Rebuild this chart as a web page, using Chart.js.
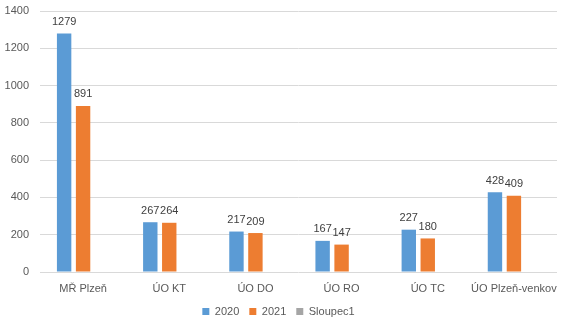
<!DOCTYPE html>
<html>
<head>
<meta charset="utf-8">
<script src="https://cdn.jsdelivr.net/npm/chart.js@4"></script>
<style>
html,body{margin:0;padding:0;background:#fff;}
#wrap{width:565px;height:327px;position:relative;}
</style>
</head>
<body>
<div id="wrap"><canvas id="c" width="565" height="327"></canvas></div>
<script>
const categories = ["MŘ Plzeň", "ÚO KT", "ÚO DO", "ÚO RO", "ÚO TC", "ÚO Plzeň-venkov"];
const values2020 = [1279, 267, 217, 167, 227, 428];
const values2021 = [891, 264, 209, 147, 180, 409];
const valuesSloupec1 = [null, null, null, null, null, null];
const seriesNames = ["2020", "2021", "Sloupec1"];
const yTicks = [0, 200, 400, 600, 800, 1000, 1200, 1400];

const FONT = "'Liberation Sans', 'DejaVu Sans', sans-serif";

const dataLabels = {
  id: 'dataLabels',
  afterDatasetsDraw(chart) {
    const ctx = chart.ctx;
    ctx.save();
    ctx.font = "11px " + FONT;
    ctx.fillStyle = '#404040';
    ctx.textAlign = 'center';
    ctx.textBaseline = 'bottom';
    chart.data.datasets.forEach((ds, i) => {
      const meta = chart.getDatasetMeta(i);
      meta.data.forEach((el, j) => {
        const v = ds.data[j];
        if (v === null || v === undefined) return;
        ctx.fillText(String(v), el.x, el.y - 6);
      });
    });
    ctx.restore();
  }
};

new Chart(document.getElementById('c'), {
  type: 'bar',
  data: {
    labels: categories,
    datasets: [
      { label: seriesNames[0], data: values2020, backgroundColor: '#5B9BD5' },
      { label: seriesNames[1], data: values2021, backgroundColor: '#ED7D31' },
      { label: seriesNames[2], data: valuesSloupec1, backgroundColor: '#A5A5A5' }
    ]
  },
  options: {
    responsive: false,
    animation: false,
    devicePixelRatio: 1,
    layout: { padding: { top: 11, right: 8, left: 0, bottom: 0 } },
    datasets: { bar: { categoryPercentage: 0.66, barPercentage: 0.76 } },
    plugins: {
      tooltip: { enabled: false },
      legend: {
        position: 'bottom',
        labels: {
          boxWidth: 7, boxHeight: 7, padding: 10,
          color: '#595959',
          font: { family: FONT, size: 11 }
        }
      }
    },
    scales: {
      x: {
        grid: { display: false, drawTicks: false },
        border: { display: false },
        ticks: { color: '#595959', font: { family: FONT, size: 11 }, padding: 10, maxRotation: 0, autoSkip: false },
        afterFit(scale) { scale.height = 24; scale.paddingLeft = 0; scale.paddingRight = 0; }
      },
      y: {
        min: 0, max: 1400,
        afterBuildTicks(scale) { scale.ticks = yTicks.map(v => ({ value: v })); },
        grid: { color: '#D9D9D9', drawTicks: false },
        border: { display: false },
        ticks: { color: '#595959', font: { family: FONT, size: 11 }, padding: 11, callback: v => String(v) },
        afterFit(scale) { scale.width = 40; scale.paddingTop = 0; scale.paddingBottom = 0; }
      }
    }
  },
  plugins: [dataLabels]
});
</script>
</body>
</html>
